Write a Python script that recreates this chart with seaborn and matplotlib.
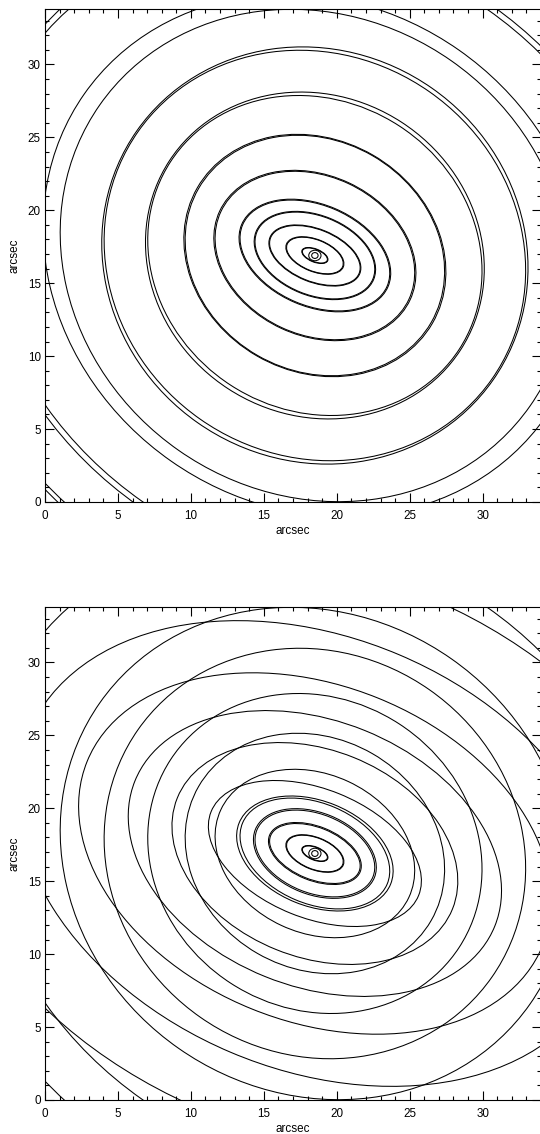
import matplotlib
matplotlib.use("Agg")
import matplotlib.pyplot as plt
from matplotlib.patches import Ellipse
from matplotlib.ticker import MultipleLocator
import seaborn as sns

# === PUSAT GALAKSI (arcsec) ===
cx = 18.5
cy = 16.9

# === ISOFOT DATA (sama di kedua panel): semi-major, semi-minor, PA (deg) ===
iso_a = [0.22, 0.42, 0.91, 2.05, 3.27, 4.29, 5.38, 7.11, 9.20, 11.80, 14.80, 18.00, 24.00, 27.80]
iso_b = [0.20, 0.36, 0.42, 1.07, 1.78, 2.70, 3.44, 5.44, 7.90, 10.60, 13.70, 16.30, 20.60, 24.00]
iso_pa = [0, 0, -22, -22, -22, -22, -23, -25, -30, -33, -35, -35, -35, -35]

# === MODEL ELIPS PANEL ATAS ===
mod1_a = [0.95, 2.10, 3.32, 4.35, 5.45, 7.20, 9.30, 11.90, 14.90, 19.30, 24.40, 28.20]
mod1_b = [0.45, 1.10, 1.82, 2.75, 3.50, 5.50, 7.95, 10.90, 14.00, 17.20, 21.00, 24.30]
mod1_pa = [-22, -22, -22, -22, -23, -25, -30, -33, -35, -35, -35, -35]

# === MODEL ELIPS PANEL BAWAH ===
mod2_a = [0.95, 2.10, 3.35, 4.40, 5.60, 7.67, 10.17, 13.30, 16.84, 21.30, 27.00]
mod2_b = [0.45, 1.10, 1.85, 2.80, 3.60, 4.42, 7.10, 9.10, 11.50, 14.80, 19.20]
mod2_pa = [-22, -22, -22, -22, -22, -22, -22, -22, -22, -23, -22]

xmax = 34.0
ymax = 33.8

sns.set_theme(style="ticks")
plt.rcParams['font.family'] = ['Liberation Sans', 'DejaVu Sans']

fig = plt.figure(figsize=(5.4, 11.34), dpi=100)
W, H = 540.0, 1134.0
ax_top = fig.add_axes([45 / W, (H - 502) / H, 496 / W, 493 / H])
ax_bot = fig.add_axes([45 / W, (H - 1100) / H, 496 / W, 493 / H])


def draw_rings(ax, a_list, b_list, pa_list):
    for a, b, pa in zip(a_list, b_list, pa_list):
        ax.add_patch(Ellipse((cx, cy), 2 * a, 2 * b, angle=pa, fill=False,
                             edgecolor='black', linewidth=0.75))


for ax, ma, mb, mp in [(ax_top, mod1_a, mod1_b, mod1_pa),
                       (ax_bot, mod2_a, mod2_b, mod2_pa)]:
    draw_rings(ax, iso_a, iso_b, iso_pa)
    draw_rings(ax, ma, mb, mp)
    ax.set_xlim(0, xmax)
    ax.set_ylim(0, ymax)
    ax.set_aspect('auto')
    ax.xaxis.set_major_locator(MultipleLocator(5))
    ax.yaxis.set_major_locator(MultipleLocator(5))
    ax.xaxis.set_minor_locator(MultipleLocator(1))
    ax.yaxis.set_minor_locator(MultipleLocator(1))
    ax.tick_params(which='both', direction='in', top=True, right=True,
                   color='black', width=0.8, labelsize=8.4, labelcolor='black')
    ax.tick_params(which='major', length=6.5)
    ax.tick_params(which='minor', length=3.2)
    ax.tick_params(axis='x', which='major', pad=6)
    ax.tick_params(axis='y', which='major', pad=3)
    for sp in ax.spines.values():
        sp.set_color('black')
        sp.set_linewidth(0.8)
    ax.set_xlabel("arcsec", fontsize=8.4, color='black', labelpad=2)
    ax.set_ylabel("arcsec", fontsize=8.4, color='black', labelpad=5)
    ax.set_facecolor('white')

fig.savefig("out.png", dpi=100, facecolor='white')
